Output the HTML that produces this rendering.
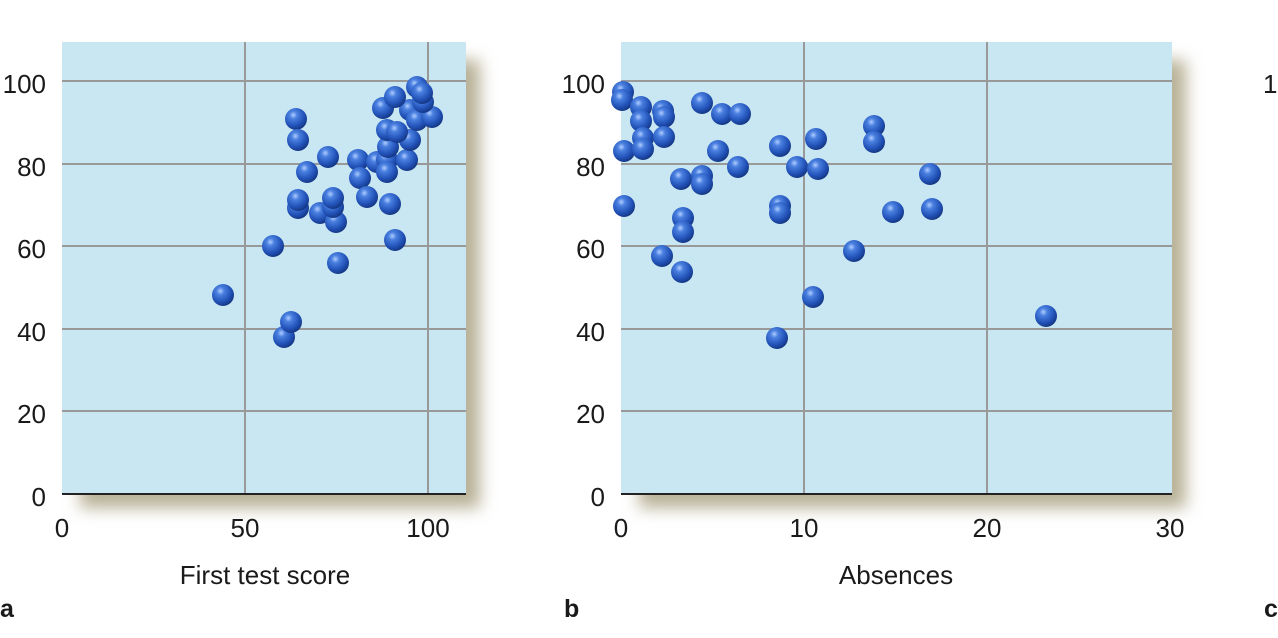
<!DOCTYPE html>
<html><head><meta charset="utf-8"><style>body{margin:0;background:#fff}svg{display:block}text{font-family:"Liberation Sans",sans-serif;fill:#1a1a1a}</style></head><body>
<svg width="1278" height="638" viewBox="0 0 1278 638">
<defs>
<radialGradient id="s" cx="0.38" cy="0.32" r="0.7"><stop offset="0" stop-color="#b0ccff"/><stop offset="0.25" stop-color="#4a80e0"/><stop offset="0.7" stop-color="#2252b8"/><stop offset="1" stop-color="#143682"/></radialGradient>
<filter id="b" x="-10%" y="-10%" width="130%" height="130%"><feGaussianBlur stdDeviation="8"/></filter>
<g id="d"><circle r="11" fill="url(#s)"/></g>
</defs>
<rect x="80" y="60" width="400" height="448" fill="#b8b196" filter="url(#b)"/>
<rect x="639" y="60" width="547" height="448" fill="#b8b196" filter="url(#b)"/>
<rect x="62" y="42" width="404" height="452" fill="#c8e7f2"/>
<g stroke="#999" stroke-width="2">
<line x1="62" x2="466" y1="81" y2="81"/><line x1="62" x2="466" y1="164" y2="164"/><line x1="62" x2="466" y1="246" y2="246"/><line x1="62" x2="466" y1="329" y2="329"/><line x1="62" x2="466" y1="411" y2="411"/>
<line x1="245" x2="245" y1="42" y2="494"/><line x1="428" x2="428" y1="42" y2="494"/></g>
<line x1="62" x2="466" y1="494" y2="494" stroke="#222" stroke-width="2"/>
<g font-size="26" text-anchor="end"><text x="46" y="93">100</text><text x="46" y="176">80</text><text x="46" y="258">60</text><text x="46" y="341">40</text><text x="46" y="423">20</text><text x="46" y="506">0</text></g>
<g font-size="26" text-anchor="middle"><text x="62" y="537">0</text><text x="245" y="537">50</text><text x="428" y="537">100</text><text x="265" y="584">First test score</text></g>
<text x="0" y="617" font-size="25" font-weight="bold">a</text>
<g>
<use href="#d" x="223" y="295"/><use href="#d" x="273" y="246"/><use href="#d" x="284" y="337"/><use href="#d" x="291" y="322"/><use href="#d" x="296" y="119"/><use href="#d" x="298" y="140"/><use href="#d" x="298" y="208"/><use href="#d" x="298" y="200"/><use href="#d" x="307" y="172"/><use href="#d" x="320" y="213"/><use href="#d" x="328" y="157"/><use href="#d" x="336" y="222"/><use href="#d" x="333" y="207"/><use href="#d" x="333" y="198"/><use href="#d" x="338" y="263"/><use href="#d" x="358" y="160"/><use href="#d" x="360" y="178"/><use href="#d" x="367" y="197"/><use href="#d" x="377" y="162"/><use href="#d" x="390" y="204"/><use href="#d" x="395" y="240"/><use href="#d" x="387" y="160"/><use href="#d" x="387" y="172"/><use href="#d" x="407" y="160"/><use href="#d" x="410" y="140"/><use href="#d" x="388" y="147"/><use href="#d" x="387" y="130"/><use href="#d" x="397" y="132"/><use href="#d" x="383" y="108"/><use href="#d" x="410" y="110"/><use href="#d" x="417" y="120"/><use href="#d" x="432" y="117"/><use href="#d" x="423" y="102"/><use href="#d" x="417" y="87"/><use href="#d" x="422" y="93"/><use href="#d" x="395" y="97"/>
</g>
<rect x="621" y="42" width="551" height="452" fill="#c8e7f2"/>
<g stroke="#999" stroke-width="2">
<line x1="621" x2="1172" y1="81" y2="81"/><line x1="621" x2="1172" y1="164" y2="164"/><line x1="621" x2="1172" y1="246" y2="246"/><line x1="621" x2="1172" y1="329" y2="329"/><line x1="621" x2="1172" y1="411" y2="411"/>
<line x1="804" x2="804" y1="42" y2="494"/><line x1="987" x2="987" y1="42" y2="494"/></g>
<line x1="621" x2="1172" y1="494" y2="494" stroke="#222" stroke-width="2"/>
<g font-size="26" text-anchor="end"><text x="605" y="93">100</text><text x="605" y="176">80</text><text x="605" y="258">60</text><text x="605" y="341">40</text><text x="605" y="423">20</text><text x="605" y="506">0</text></g>
<g font-size="26" text-anchor="middle"><text x="621" y="537">0</text><text x="804" y="537">10</text><text x="987" y="537">20</text><text x="1170" y="537">30</text><text x="896" y="584">Absences</text></g>
<text x="564" y="617" font-size="25" font-weight="bold">b</text>
<g>
<use href="#d" x="623" y="92"/><use href="#d" x="622" y="100"/><use href="#d" x="624" y="151"/><use href="#d" x="624" y="206"/><use href="#d" x="641" y="107"/><use href="#d" x="641" y="121"/><use href="#d" x="643" y="138"/><use href="#d" x="643" y="149"/><use href="#d" x="663" y="111"/><use href="#d" x="664" y="117"/><use href="#d" x="664" y="137"/><use href="#d" x="662" y="256"/><use href="#d" x="681" y="179"/><use href="#d" x="683" y="218"/><use href="#d" x="683" y="232"/><use href="#d" x="682" y="272"/><use href="#d" x="702" y="103"/><use href="#d" x="702" y="176"/><use href="#d" x="702" y="184"/><use href="#d" x="718" y="151"/><use href="#d" x="722" y="114"/><use href="#d" x="740" y="114"/><use href="#d" x="738" y="167"/><use href="#d" x="780" y="146"/><use href="#d" x="780" y="206"/><use href="#d" x="780" y="213"/><use href="#d" x="777" y="338"/><use href="#d" x="797" y="167"/><use href="#d" x="816" y="139"/><use href="#d" x="818" y="169"/><use href="#d" x="813" y="297"/><use href="#d" x="854" y="251"/><use href="#d" x="874" y="126"/><use href="#d" x="874" y="142"/><use href="#d" x="893" y="212"/><use href="#d" x="930" y="174"/><use href="#d" x="932" y="209"/><use href="#d" x="1046" y="316"/>
</g>
<text x="1263" y="93" font-size="26">10</text>
<text x="1264" y="617" font-size="25" font-weight="bold">c</text>
</svg>
</body></html>
